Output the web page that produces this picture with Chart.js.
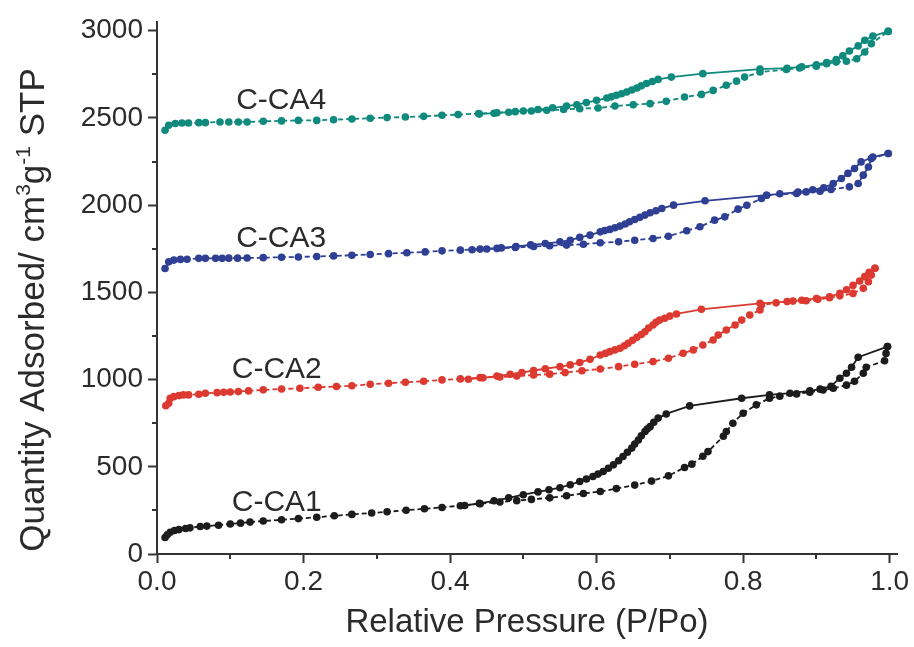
<!DOCTYPE html>
<html>
<head>
<meta charset="utf-8">
<title>N2 isotherms</title>
<script src="https://cdn.jsdelivr.net/npm/chart.js@4.4.1/dist/chart.umd.min.js"></script>
<style>
  html, body { margin: 0; padding: 0; background: #fff; }
  #wrap { width: 914px; height: 647px; }
</style>
</head>
<body>
<div id="wrap"><canvas id="iso" width="914" height="647"></canvas></div>
<script>
// relative pressure / quantity adsorbed, adsorption (lower) and desorption (upper) branches

// C-CA1
const ca1AdsP = [0.011, 0.014, 0.018, 0.024, 0.030, 0.039, 0.045, 0.059, 0.068, 0.084, 0.100, 0.114, 0.127, 0.145, 0.170, 0.193, 0.218, 0.242, 0.266, 0.293, 0.314, 0.340, 0.365, 0.389, 0.414, 0.441, 0.468, 0.491, 0.511, 0.536, 0.559, 0.582, 0.605, 0.627, 0.652, 0.675, 0.698, 0.720, 0.730, 0.745, 0.752, 0.773, 0.777, 0.786, 0.800, 0.818, 0.836, 0.850, 0.873, 0.891, 0.909, 0.923, 0.941, 0.952, 0.964, 0.968, 0.993, 0.995, 0.997];
const ca1AdsQ = [95, 110, 125, 135, 140, 146, 150, 158, 160, 165, 172, 177, 183, 189, 196, 203, 211, 219, 227, 235, 242, 251, 259, 267, 277, 288, 298, 306, 313, 322, 334, 347, 358, 375, 395, 418, 448, 496, 515, 560, 587, 675, 702, 750, 807, 855, 893, 905, 918, 928, 940, 950, 968, 990, 1036, 1071, 1108, 1150, 1189];
const ca1DesP = [0.997, 0.957, 0.948, 0.941, 0.932, 0.920, 0.905, 0.891, 0.864, 0.836, 0.798, 0.727, 0.695, 0.684, 0.678, 0.673, 0.669, 0.666, 0.661, 0.657, 0.652, 0.648, 0.642, 0.636, 0.630, 0.623, 0.616, 0.609, 0.602, 0.595, 0.586, 0.577, 0.564, 0.550, 0.535, 0.520, 0.500, 0.480, 0.460, 0.440, 0.420];
const ca1DesQ = [1189, 1128, 1071, 1036, 1008, 962, 945, 935, 922, 912, 893, 849, 803, 779, 755, 730, 716, 702, 678, 654, 630, 607, 583, 559, 535, 511, 492, 473, 458, 444, 430, 416, 397, 380, 368, 356, 340, 322, 305, 290, 278];

// C-CA2
const ca2AdsP = [0.012, 0.016, 0.018, 0.023, 0.030, 0.036, 0.043, 0.057, 0.066, 0.082, 0.091, 0.100, 0.111, 0.125, 0.145, 0.170, 0.195, 0.220, 0.245, 0.266, 0.291, 0.316, 0.339, 0.364, 0.389, 0.414, 0.441, 0.468, 0.491, 0.514, 0.536, 0.557, 0.580, 0.605, 0.630, 0.652, 0.677, 0.698, 0.718, 0.732, 0.745, 0.759, 0.766, 0.777, 0.789, 0.798, 0.809, 0.823, 0.825, 0.845, 0.868, 0.886, 0.902, 0.918, 0.932, 0.950, 0.964, 0.971, 0.975, 0.980];
const ca2AdsQ = [850, 864, 893, 902, 908, 912, 912, 916, 922, 925, 927, 929, 931, 935, 941, 946, 950, 956, 960, 965, 973, 979, 985, 990, 998, 1004, 1011, 1015, 1020, 1026, 1031, 1040, 1051, 1061, 1074, 1088, 1103, 1122, 1151, 1170, 1198, 1227, 1255, 1284, 1313, 1341, 1370, 1399, 1427, 1440, 1450, 1452, 1460, 1469, 1480, 1494, 1523, 1561, 1599, 1638];
const ca2DesP = [0.980, 0.972, 0.966, 0.959, 0.950, 0.941, 0.932, 0.918, 0.900, 0.880, 0.860, 0.823, 0.743, 0.709, 0.700, 0.693, 0.686, 0.681, 0.677, 0.671, 0.666, 0.661, 0.655, 0.649, 0.643, 0.638, 0.632, 0.625, 0.618, 0.612, 0.605, 0.591, 0.577, 0.564, 0.550, 0.530, 0.514, 0.498, 0.482, 0.464, 0.445, 0.425];
const ca2DesQ = [1638, 1615, 1590, 1565, 1540, 1515, 1494, 1475, 1465, 1455, 1447, 1437, 1403, 1376, 1364, 1352, 1341, 1328, 1313, 1295, 1274, 1258, 1242, 1225, 1208, 1194, 1179, 1170, 1160, 1150, 1141, 1116, 1098, 1084, 1074, 1062, 1052, 1040, 1030, 1020, 1010, 1002];

// C-CA3
const ca3AdsP = [0.011, 0.016, 0.023, 0.032, 0.041, 0.057, 0.066, 0.080, 0.089, 0.098, 0.110, 0.123, 0.145, 0.170, 0.193, 0.218, 0.241, 0.266, 0.291, 0.316, 0.341, 0.366, 0.389, 0.414, 0.441, 0.464, 0.489, 0.514, 0.536, 0.559, 0.582, 0.605, 0.630, 0.652, 0.677, 0.698, 0.723, 0.741, 0.761, 0.775, 0.793, 0.805, 0.825, 0.832, 0.873, 0.886, 0.905, 0.920, 0.945, 0.957, 0.964, 0.971, 0.975, 0.998];
const ca3AdsQ = [1637, 1675, 1685, 1689, 1690, 1695, 1695, 1695, 1695, 1696, 1696, 1697, 1699, 1701, 1703, 1706, 1709, 1713, 1717, 1722, 1727, 1732, 1738, 1742, 1748, 1752, 1757, 1763, 1767, 1771, 1776, 1784, 1790, 1799, 1809, 1822, 1853, 1876, 1914, 1933, 1977, 1999, 2038, 2057, 2067, 2076, 2080, 2090, 2105, 2124, 2172, 2219, 2267, 2296];
const ca3DesP = [0.998, 0.977, 0.961, 0.952, 0.943, 0.934, 0.923, 0.910, 0.895, 0.875, 0.850, 0.832, 0.748, 0.705, 0.689, 0.681, 0.673, 0.666, 0.659, 0.652, 0.645, 0.639, 0.632, 0.625, 0.618, 0.611, 0.605, 0.591, 0.577, 0.564, 0.550, 0.530, 0.510, 0.490, 0.470, 0.450, 0.430];
const ca3DesQ = [2296, 2276, 2248, 2210, 2182, 2153, 2124, 2100, 2088, 2075, 2065, 2057, 2025, 2000, 1981, 1968, 1956, 1943, 1930, 1918, 1905, 1892, 1880, 1870, 1861, 1854, 1847, 1828, 1815, 1799, 1790, 1780, 1772, 1763, 1755, 1749, 1744];

// C-CA4
const ca4AdsP = [0.011, 0.016, 0.025, 0.034, 0.043, 0.057, 0.066, 0.086, 0.098, 0.111, 0.123, 0.145, 0.170, 0.193, 0.218, 0.241, 0.266, 0.291, 0.314, 0.339, 0.364, 0.389, 0.411, 0.439, 0.464, 0.489, 0.511, 0.532, 0.555, 0.577, 0.602, 0.625, 0.650, 0.673, 0.695, 0.720, 0.743, 0.759, 0.777, 0.791, 0.802, 0.823, 0.859, 0.877, 0.900, 0.914, 0.927, 0.941, 0.955, 0.966, 0.975, 0.998];
const ca4AdsQ = [2429, 2458, 2468, 2471, 2471, 2473, 2473, 2477, 2477, 2477, 2477, 2481, 2483, 2486, 2486, 2490, 2494, 2498, 2502, 2505, 2509, 2515, 2519, 2525, 2530, 2536, 2540, 2544, 2548, 2553, 2557, 2568, 2576, 2582, 2595, 2620, 2635, 2658, 2687, 2711, 2734, 2763, 2778, 2786, 2797, 2811, 2820, 2825, 2839, 2878, 2926, 2996];
const ca4DesP = [0.998, 0.977, 0.966, 0.957, 0.945, 0.936, 0.927, 0.914, 0.900, 0.880, 0.860, 0.823, 0.745, 0.702, 0.684, 0.676, 0.668, 0.661, 0.655, 0.648, 0.641, 0.634, 0.627, 0.620, 0.614, 0.600, 0.586, 0.573, 0.559, 0.540, 0.520, 0.500, 0.480, 0.460, 0.440];
const ca4DesQ = [2996, 2969, 2945, 2913, 2884, 2856, 2835, 2818, 2805, 2793, 2785, 2780, 2754, 2734, 2721, 2709, 2697, 2684, 2672, 2660, 2649, 2639, 2630, 2621, 2614, 2601, 2588, 2576, 2568, 2558, 2548, 2540, 2533, 2527, 2522];

// axis ticks
const xTicks = [0.0, 0.2, 0.4, 0.6, 0.8, 1.0];
const xMinorTicks = [0.1, 0.3, 0.5, 0.7, 0.9];
const yTicks = [0, 500, 1000, 1500, 2000, 2500, 3000];
const yMinorTicks = [250, 750, 1250, 1750, 2250, 2750];

// sample names written next to each curve
const sampleNames = ['C-CA1', 'C-CA2', 'C-CA3', 'C-CA4'];
const namePos = [[0.102, 244], [0.102, 1008], [0.108, 1761], [0.108, 2553]];

const COLORS = ['#1c1c1c', '#dc3a30', '#2f3f94', '#0f8a7c'];
const INK = '#2b2b2b';
const FONT = "'Liberation Sans', Arial, sans-serif";

function pts(px, qy) {
    return px.map((p, i) => ({ x: p, y: qy[i] }));
}

function branch(px, qy, color, dashed) {
    return {
        data: pts(px, qy),
        borderColor: color,
        backgroundColor: color,
        pointBackgroundColor: color,
        pointBorderWidth: 0,
        pointRadius: 3.8,
        borderWidth: 1.8,
        borderDash: dashed ? [5, 3] : [],
        tension: 0
    };
}

const datasets = [
    branch(ca1AdsP, ca1AdsQ, COLORS[0], true),
    branch(ca1DesP, ca1DesQ, COLORS[0], false),
    branch(ca2AdsP, ca2AdsQ, COLORS[1], true),
    branch(ca2DesP, ca2DesQ, COLORS[1], false),
    branch(ca3AdsP, ca3AdsQ, COLORS[2], true),
    branch(ca3DesP, ca3DesQ, COLORS[2], false),
    branch(ca4AdsP, ca4AdsQ, COLORS[3], true),
    branch(ca4DesP, ca4DesQ, COLORS[3], false)
];

// short outward minor ticks + curve names + y title with superscripts
const decor = {
    id: 'decor',
    afterDraw(chart) {
        const ctx = chart.ctx;
        const xs = chart.scales.x, ys = chart.scales.y;
        const area = chart.chartArea;
        ctx.save();
        ctx.strokeStyle = '#333';
        ctx.lineWidth = 2;
        ctx.beginPath();
        xMinorTicks.forEach(v => {
            const px = Math.round(xs.getPixelForValue(v));
            ctx.moveTo(px, area.bottom);
            ctx.lineTo(px, area.bottom + 5);
        });
        yMinorTicks.forEach(v => {
            const py = Math.round(ys.getPixelForValue(v));
            ctx.moveTo(area.left, py);
            ctx.lineTo(area.left - 5, py);
        });
        ctx.stroke();

        ctx.fillStyle = INK;
        ctx.font = '30px ' + FONT;
        ctx.textAlign = 'left';
        ctx.textBaseline = 'alphabetic';
        sampleNames.forEach((name, i) => {
            ctx.fillText(name, xs.getPixelForValue(namePos[i][0]), ys.getPixelForValue(namePos[i][1]));
        });

        // rotated y title: Quantity Adsorbed/ cm^3 g^-1 STP
        const parts = [
            ['Quantity Adsorbed/ cm', false],
            ['3', true],
            ['g', false],
            ['-1', true],
            [' STP', false]
        ];
        const big = '35px ' + FONT, small = '21px ' + FONT;
        let total = 0;
        parts.forEach(([t, sup]) => {
            ctx.font = sup ? small : big;
            total += ctx.measureText(t).width;
        });
        ctx.translate(44, 310);
        ctx.rotate(-Math.PI / 2);
        let cx = -total / 2;
        parts.forEach(([t, sup]) => {
            ctx.font = sup ? small : big;
            ctx.fillText(t, cx, sup ? -14 : 0);
            cx += ctx.measureText(t).width;
        });
        ctx.restore();
    }
};

const tickFont = { family: FONT, size: 28 };

new Chart(document.getElementById('iso'), {
    type: 'line',
    data: { datasets },
    options: {
        responsive: false,
        animation: false,
        layout: { padding: { left: 0, right: 17, top: 22, bottom: 0 } },
        plugins: {
            legend: { display: false },
            tooltip: { enabled: false }
        },
        scales: {
            x: {
                type: 'linear',
                min: 0,
                max: 1.01,
                afterBuildTicks: s => { s.ticks = xTicks.map(v => ({ value: v })); },
                afterFit: s => { s.height = 93; },
                ticks: {
                    color: INK,
                    font: tickFont,
                    padding: 2,
                    maxRotation: 0,
                    callback: v => Number(v).toFixed(1)
                },
                grid: {
                    drawOnChartArea: false,
                    drawTicks: true,
                    tickLength: 9,
                    tickWidth: 2,
                    tickColor: '#333'
                },
                border: { display: true, color: '#333', width: 2 },
                title: {
                    display: true,
                    text: 'Relative Pressure (P/Po)',
                    color: INK,
                    font: { family: FONT, size: 33 },
                    padding: { top: 0, bottom: 4 }
                }
            },
            y: {
                type: 'linear',
                min: 0,
                max: 3050,
                afterBuildTicks: s => { s.ticks = yTicks.map(v => ({ value: v })); },
                afterFit: s => { s.width = 157; },
                ticks: {
                    color: INK,
                    font: tickFont,
                    padding: 5,
                    callback: v => String(v)
                },
                grid: {
                    drawOnChartArea: false,
                    drawTicks: true,
                    tickLength: 9,
                    tickWidth: 2,
                    tickColor: '#333'
                },
                border: { display: true, color: '#333', width: 2 }
            }
        }
    },
    plugins: [decor]
});
</script>
</body>
</html>
